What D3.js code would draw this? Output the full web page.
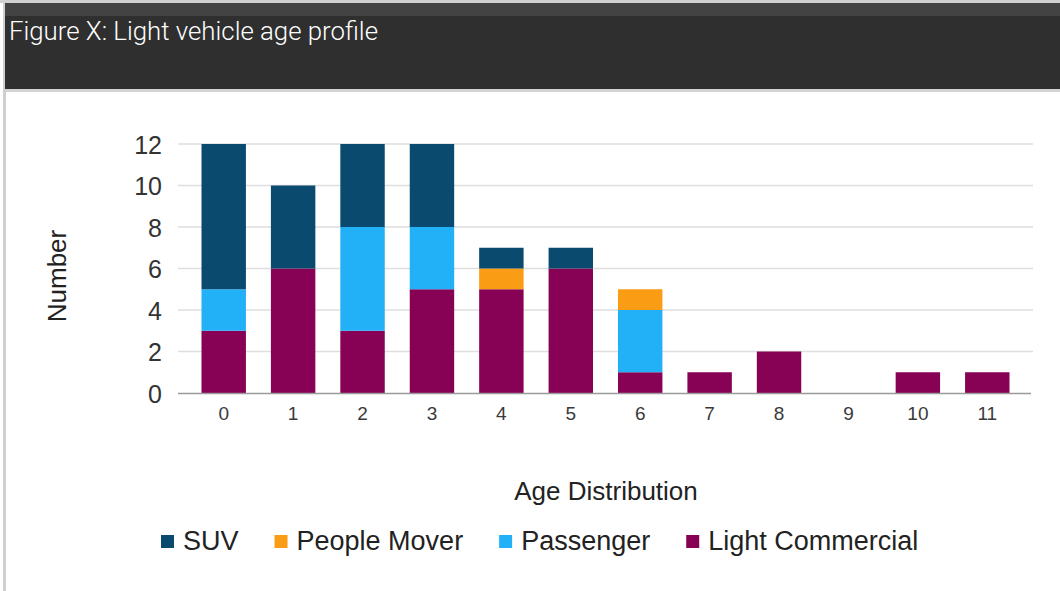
<!DOCTYPE html>
<html><head><meta charset="utf-8">
<script src="https://cdn.jsdelivr.net/npm/d3@7"></script>
<style>
html,body{margin:0;padding:0;background:#fff;overflow:hidden;}
svg{display:block;}
</style></head>
<body>
<svg id="chart" width="1060" height="591"></svg>
<script>
const ages = ["0","1","2","3","4","5","6","7","8","9","10","11"];
const seriesNames = ["Light Commercial","Passenger","People Mover","SUV"];
const lightCommercial = [3,6,3,5,5,6,1,1,2,0,1,1];
const passenger       = [2,0,5,3,0,0,3,0,0,0,0,0];
const peopleMover     = [0,0,0,0,1,0,1,0,0,0,0,0];
const suv             = [7,4,4,4,1,1,0,0,0,0,0,0];
const yTicks = [0,2,4,6,8,10,12];
const legendOrder = ["SUV","People Mover","Passenger","Light Commercial"];
const colors = {"SUV":"#0b4a6f","People Mover":"#fb9d14","Passenger":"#22b0f7","Light Commercial":"#870255"};

const rows = ages.map((a,i)=>({age:a,"Light Commercial":lightCommercial[i],"Passenger":passenger[i],"People Mover":peopleMover[i],"SUV":suv[i]}));

const svg = d3.select("#chart");
// frame
svg.append("rect").attr("x",0).attr("y",0).attr("width",1060).attr("height",3).attr("fill","#d0d0d0");
svg.append("rect").attr("x",3).attr("y",0).attr("width",3).attr("height",591).attr("fill","#cfcfcf");
svg.append("rect").attr("x",5).attr("y",3).attr("width",1055).attr("height",86).attr("fill","#2f2f2f");
svg.append("rect").attr("x",5).attr("y",3).attr("width",1055).attr("height",13).attr("fill","#434343");
svg.append("rect").attr("x",5).attr("y",89).attr("width",1055).attr("height",3).attr("fill","#d3d3d3");
svg.append("text").attr("x",9).attr("y",40).attr("fill","#ffffff")
  .style("font-family","Roboto").style("font-weight",300).style("font-size","26px")
  .attr("textLength",369).attr("lengthAdjust","spacingAndGlyphs")
  .text("Figure X: Light vehicle age profile");

const y = d3.scaleLinear().domain([0,12]).range([393,144]);
const x = d3.scaleBand().domain(ages).range([189,1022]).paddingInner(0.36).paddingOuter(0.18);

// gridlines
const grid = svg.append("g");
grid.selectAll("line").data(yTicks.filter(d=>d>0)).join("line")
  .attr("x1",178).attr("x2",1033).attr("y1",d=>y(d)).attr("y2",d=>y(d))
  .attr("stroke","#dedede").attr("stroke-width",1.5);

// y axis labels
const yAxis = d3.axisLeft(y).tickValues(yTicks).tickSize(0).tickPadding(0);
const yg = svg.append("g").attr("transform","translate(162,0)").call(yAxis);
yg.select(".domain").remove();
yg.selectAll("text").attr("fill","#333").style("font-family","Liberation Sans, Arial").style("font-size","25px").attr("dy","0.36em");

// stacks
const stack = d3.stack().keys(seriesNames)(rows);
svg.append("g").selectAll("g").data(stack).join("g").attr("fill",d=>colors[d.key])
  .selectAll("rect").data(d=>d).join("rect")
  .attr("x",d=>x(d.data.age)).attr("width",x.bandwidth())
  .attr("y",d=>y(d[1])).attr("height",d=>y(d[0])-y(d[1]));

// x axis
const xAxis = d3.axisBottom(x).tickSize(0).tickPadding(0);
const xg = svg.append("g").attr("transform","translate(0,393)").call(xAxis);
xg.select(".domain").remove();
xg.selectAll("text").attr("fill","#3a3a3a").style("font-family","Liberation Sans, Arial").style("font-size","19px").attr("dy","1.4em");
svg.append("line").attr("x1",178).attr("x2",1031).attr("y1",393.5).attr("y2",393.5).attr("stroke","#9a9a9a").attr("stroke-width",1.5);

// axis titles
svg.append("text").attr("x",606).attr("y",500).attr("text-anchor","middle").attr("fill","#222")
  .style("font-family","Liberation Sans, Arial").style("font-size","26px").text("Age Distribution");
svg.append("text").attr("transform","translate(66,276) rotate(-90)").attr("text-anchor","middle").attr("fill","#222")
  .style("font-family","Liberation Sans, Arial").style("font-size","26px").text("Number");

// legend
const lg = svg.append("g");
let lx = 161;
legendOrder.forEach(name=>{
  lg.append("rect").attr("x",lx).attr("y",535).attr("width",13).attr("height",13).attr("fill",colors[name]);
  const t = lg.append("text").attr("x",lx+22).attr("y",550).attr("fill","#222")
    .style("font-family","Liberation Sans, Arial").style("font-size","27px").text(name);
  lx = lx + 22 + t.node().getComputedTextLength() + 36;
});
</script>
</body></html>
